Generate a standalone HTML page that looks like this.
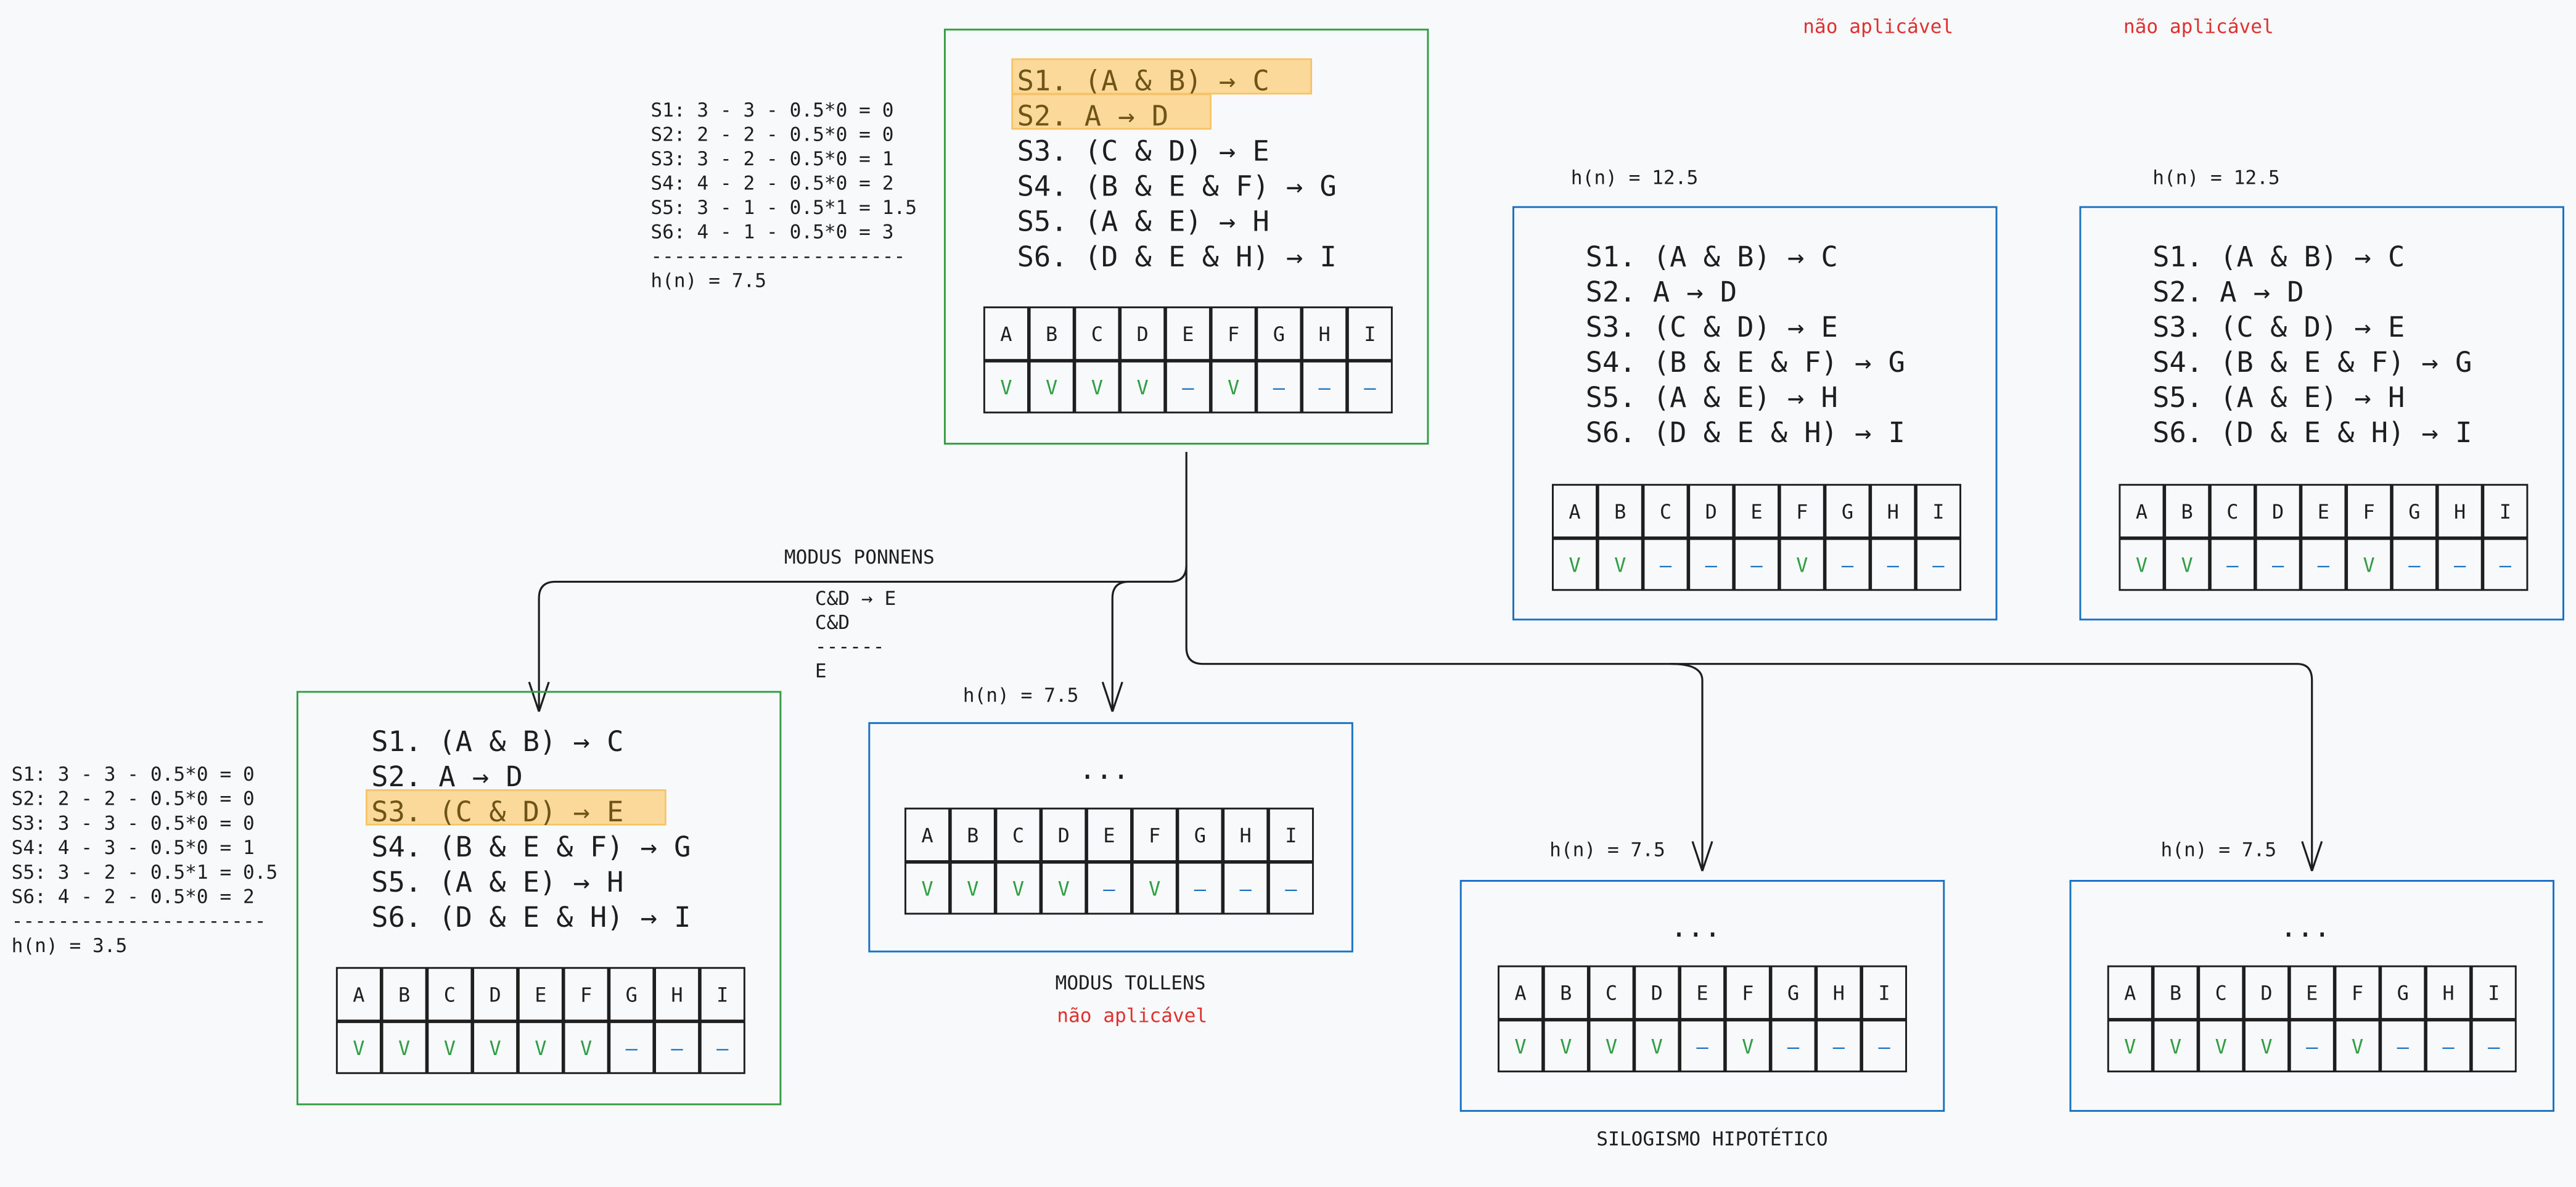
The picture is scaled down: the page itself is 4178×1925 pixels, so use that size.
<!DOCTYPE html>
<html><head><meta charset="utf-8"><style>
html,body{margin:0;padding:0;background:#f8f9fb;}
svg{display:block;}
text{font-family:"DejaVu Sans Mono","Liberation Mono",monospace;}
</style></head><body>
<svg id="s" width="4178" height="1925" viewBox="0 0 1567.7 722.3" xmlns="http://www.w3.org/2000/svg">
<rect x="0" y="0" width="1567.7" height="722.3" fill="#f8f9fb"/>
<g fill="none" stroke="#1e1e1e" stroke-width="1.2">
<path d="M722,275 V344 Q722,354 712,354 H338 Q328,354 328,364 V433"/>
<path d="M328,433 l-6,-18 M328,433 l6,-18"/>
<path d="M712,354 H687 Q677,354 677,364 V433"/>
<path d="M677,433 l-6,-18 M677,433 l6,-18"/>
<path d="M722,344 V394 Q722,404 732,404 H1398 Q1407,404 1407,414 V530"/>
<path d="M1407,530 l-6,-18 M1407,530 l6,-18"/>
<path d="M1017,404 Q1036,404 1036,414 V530"/>
<path d="M1036,530 l-6,-18 M1036,530 l6,-18"/>
</g>
<g id="content"></g>
</svg>
<script>
const letters = ["A","B","C","D","E","F","G","H","I"];
const statements = ["S1. (A & B) → C","S2. A → D","S3. (C & D) → E","S4. (B & E & F) → G","S5. (A & E) → H","S6. (D & E & H) → I"];
const valsTop = ["V","V","V","V","-","V","-","-","-"];
const valsPonens = ["V","V","V","V","V","V","-","-","-"];
const valsInit = ["V","V","-","-","-","V","-","-","-"];
const calcTop = ["S1: 3 - 3 - 0.5*0 = 0","S2: 2 - 2 - 0.5*0 = 0","S3: 3 - 2 - 0.5*0 = 1","S4: 4 - 2 - 0.5*0 = 2","S5: 3 - 1 - 0.5*1 = 1.5","S6: 4 - 1 - 0.5*0 = 3","----------------------","h(n) = 7.5"];
const calcPonens = ["S1: 3 - 3 - 0.5*0 = 0","S2: 2 - 2 - 0.5*0 = 0","S3: 3 - 3 - 0.5*0 = 0","S4: 4 - 3 - 0.5*0 = 1","S5: 3 - 2 - 0.5*1 = 0.5","S6: 4 - 2 - 0.5*0 = 2","----------------------","h(n) = 3.5"];
const ruleText = ["C&D → E","C&D","------","E"];

const NS="http://www.w3.org/2000/svg";
const root=document.getElementById('content');
function mk(tag,attrs,parent){const e=document.createElementNS(NS,tag);for(const k in attrs)e.setAttribute(k,attrs[k]);(parent||root).appendChild(e);return e;}
function txt(x,y,s,size,fill,anchor,parent){const t=mk('text',{x:x,y:y,'font-size':size,fill:fill||'#1e1e1e','text-anchor':anchor||'start'},parent);t.textContent=s;return t;}

function table(x,y,vals,name){
  const g=mk('g',{});
  
  
  const w=27.67;
  for(let i=0;i<letters.length;i++){
    const cx=x+i*w;
    const r1=mk('rect',{x:cx,y:y,width:w-1,height:32,fill:'none',stroke:'#1e1e1e','stroke-width':1.1},g);
    
    
    const t1=txt(cx+(w-1)/2,y+20.5,letters[i],12,'#1e1e1e','middle',g);
    
    
    const r2=mk('rect',{x:cx,y:y+33,width:w-1,height:31,fill:'none',stroke:'#1e1e1e','stroke-width':1.1},g);
    
    
    const v=vals[i];
    const t2=txt(cx+(w-1)/2,y+53,v==='V'?'V':'–',12,v==='V'?'#2f9e44':'#1971c2','middle',g);
    
    
  }
}
function box(x,y,w,h,color,name){
  const r=mk('rect',{x:x,y:y,width:w,height:h,fill:'none',stroke:color,'stroke-width':1.1});
  
  
}
function stmts(x,y,hl,name){
  const g=mk('g',{});
  
  
  for(let i=0;i<statements.length;i++){
    const by=y+i*21.4;
    if(hl.indexOf(i)>=0){
      const r=mk('rect',{x:x-3,y:by-19,width:statements[i].length*10.2+29,height:21,fill:'#fad99a',stroke:'#f5c266','stroke-width':1},g);
      
      
    }
    const t=txt(x,by,statements[i],17,hl.indexOf(i)>=0?'#6e5418':'#1e1e1e','start',g);
    
    
  }
}
function lines(x,y,arr,step,name){
  const g=mk('g',{});
  
  
  arr.forEach((s,i)=>{const t=txt(x,y+i*step,s,11.7,'#1e1e1e','start',g);
    
    });
}

box(575,18,294,252,'#2f9e44','top-node-box');
stmts(619,55,[0,1],'top-statements');
table(599,187,valsTop,'top-table');
lines(396,71,calcTop,14.8,'top-heuristic-calc');

box(181,421,294,251,'#2f9e44','ponens-node-box');
stmts(226,457,[2],'ponens-statements');
table(205,589,valsPonens,'ponens-table');
lines(7,475,calcPonens,14.9,'ponens-heuristic-calc');
let t;
t=txt(523,343,'MODUS PONNENS',11.7,'#1e1e1e','middle');


lines(496,368,ruleText,14.7,'modus-ponens-rule');

box(529,440,294,139,'#1971c2','tollens-node-box');
t=txt(672,474,'...',17,'#1e1e1e','middle');


table(551,492,valsTop,'tollens-table');
t=txt(586,427,'h(n) = 7.5',11.7);


t=txt(688,602,'MODUS TOLLENS',11.7,'#1e1e1e','middle');


t=txt(689,622,'não aplicável',11.7,'#e03131','middle');



[[921,956,1097],[1266,1310,1292]].forEach((p,k)=>{
  box(p[0],126,294,251,'#1971c2','initial-node-box-'+(k+1));
  stmts(p[0]+44,162,[],'initial-statements-'+(k+1));
  table(p[0]+24,295,valsInit,'initial-table-'+(k+1));
  let a=txt(p[1],112,'h(n) = 12.5',11.7);
  
  
  a=txt(p[2]+46,20,'não aplicável',11.7,'#e03131','middle');
  
  
});

[[889,943],[1260,1315]].forEach((p,k)=>{
  box(p[0],536,294,140,'#1971c2','silogismo-node-box-'+(k+1));
  let a=txt(p[0]+143,570,'...',17,'#1e1e1e','middle');
  
  
  table(p[0]+23,588,valsTop,'silogismo-table-'+(k+1));
  a=txt(p[1],521,'h(n) = 7.5',11.7);
  
  
});
t=txt(1042,697,'SILOGISMO HIPOTÉTICO',11.7,'#1e1e1e','middle');


</script>
</body></html>
